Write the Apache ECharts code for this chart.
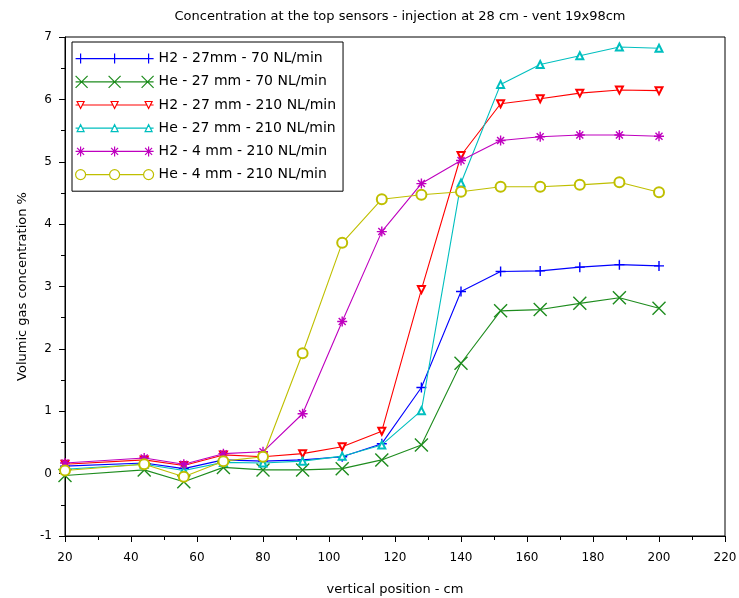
<!DOCTYPE html>
<html><head><meta charset="utf-8">
<script src="https://cdn.jsdelivr.net/npm/echarts@6/dist/echarts.min.js"></script>
<style>html,body{margin:0;padding:0;background:#fff}#c{width:739px;height:598px}</style>
</head><body><div id="c"></div>
<script>
const positions = [20, 44, 56, 68, 80, 92, 104, 116, 128, 140, 152, 164, 176, 188, 200];
const seriesNames = ['H2 - 27mm - 70 NL/min','He - 27 mm - 70 NL/min','H2 - 27 mm - 210 NL/min','He - 27 mm - 210 NL/min','H2 - 4 mm - 210 NL/min','He - 4 mm - 210 NL/min'];
const h2_27_70  = [0.12, 0.17, 0.08, 0.22, 0.20, 0.22, 0.27, 0.48, 1.38, 2.92, 3.24, 3.25, 3.31, 3.35, 3.33];
const he_27_70  = [-0.03, 0.06, -0.13, 0.10, 0.06, 0.06, 0.08, 0.22, 0.46, 1.77, 2.61, 2.63, 2.73, 2.82, 2.65];
const h2_27_210 = [0.15, 0.22, 0.13, 0.30, 0.27, 0.32, 0.43, 0.68, 2.95, 5.10, 5.93, 6.01, 6.10, 6.15, 6.14];
const he_27_210 = [0.07, 0.15, 0.05, 0.18, 0.17, 0.20, 0.28, 0.46, 1.01, 4.66, 6.24, 6.56, 6.70, 6.84, 6.82];
const h2_4_210  = [0.17, 0.25, 0.15, 0.32, 0.35, 0.96, 2.44, 3.88, 4.65, 5.02, 5.34, 5.40, 5.43, 5.43, 5.41];
const he_4_210  = [0.05, 0.15, -0.05, 0.20, 0.27, 1.93, 3.70, 4.40, 4.47, 4.52, 4.60, 4.60, 4.63, 4.67, 4.51];
const xTicks = [20, 40, 60, 80, 100, 120, 140, 160, 180, 200, 220];
const yTicks = [-1, 0, 1, 2, 3, 4, 5, 6, 7];

const allValues = [h2_27_70, he_27_70, h2_27_210, he_27_210, h2_4_210, he_4_210];
const colors = ['#0000ff', '#1e8c1e', '#ff0000', '#00bfbf', '#bf00bf', '#bfbf00'];
const symbols = [
  'path://M5,0L5,10M0,5L10,5',
  'path://M0,0L10,10M0,10L10,0',
  'emptyTriangle',
  'emptyTriangle',
  'path://M5,0L5,10M0,5L10,5M1.5,1.5L8.5,8.5M1.5,8.5L8.5,1.5',
  'emptyCircle'
];
const sizes = [10, 13, 7, 7, 10, 10];
const rotates = [0, 0, 180, 0, 0, 0];
// legend icons: a line with three markers (78 x 14 box)
const BB = 'M0,0M78,14';
const legendIcons = [
  BB + 'M0,7L78,7M5,2L5,12M39,2L39,12M73,2L73,12',
  BB + 'M0,7L78,7M0,1L12,13M12,1L0,13M33,1L45,13M45,1L33,13M66,1L78,13M78,1L66,13',
  BB + 'M0,7L3,7M7,7L37,7M41,7L71,7M75,7L78,7M1.5,3.5L8.5,3.5L5,10.5ZM35.5,3.5L42.5,3.5L39,10.5ZM69.5,3.5L76.5,3.5L73,10.5Z',
  BB + 'M0,7L3,7M7,7L37,7M41,7L71,7M75,7L78,7M1.5,10.5L8.5,10.5L5,3.5ZM35.5,10.5L42.5,10.5L39,3.5ZM69.5,10.5L76.5,10.5L73,3.5Z',
  BB + 'M0,7L78,7M5,2L5,12M1.5,3.5L8.5,10.5M1.5,10.5L8.5,3.5M39,2L39,12M35.5,3.5L42.5,10.5M35.5,10.5L42.5,3.5M73,2L73,12M69.5,3.5L76.5,10.5M69.5,10.5L76.5,3.5',
  BB + 'M10,7L34,7M44,7L68,7M10,7A5,5 0 1,1 0,7A5,5 0 1,1 10,7ZM44,7A5,5 0 1,1 34,7A5,5 0 1,1 44,7ZM78,7A5,5 0 1,1 68,7A5,5 0 1,1 78,7Z'
];
const FONT = 'DejaVu Sans';

const chart = echarts.init(document.getElementById('c'), null, {renderer: 'canvas'});
const series = allValues.map((vals, i) => ({
  name: seriesNames[i],
  type: 'line',
  data: positions.map((p, k) => [p, vals[k]]),
  symbol: symbols[i],
  symbolSize: sizes[i],
  symbolRotate: rotates[i],
  showAllSymbol: true,
  color: colors[i],
  lineStyle: {color: colors[i], width: 1.1},
  itemStyle: {color: colors[i], borderColor: colors[i], borderWidth: i === 0 || i === 1 || i === 4 ? 1.4 : 1.1},
  emphasis: {disabled: true},
  animation: false,
  z: 2 + i
}));

chart.setOption({
  animation: false,
  backgroundColor: '#fff',
  title: {
    text: 'Concentration at the top sensors - injection at 28 cm - vent 19x98cm',
    left: 395, top: 5, textAlign: 'center',
    textStyle: {fontFamily: FONT, fontSize: 13, fontWeight: 'normal', color: '#000'}
  },
  grid: {left: 65, right: 14, top: 37, bottom: 62, show: true, borderColor: '#000', borderWidth: 1,
    backgroundColor: 'transparent', containLabel: false, outerBoundsMode: 'none'},
  legend: {
    orient: 'vertical', left: 72, top: 42,
    data: seriesNames.map((n, i) => ({
      name: n, icon: 'path://' + legendIcons[i],
      itemStyle: {color: 'rgba(255,255,255,0)', borderColor: colors[i], borderWidth: 1.2}
    })),
    backgroundColor: '#fff', borderColor: '#000', borderWidth: 1,
    padding: [9, 7, 9, 3], itemGap: 8, itemWidth: 78, itemHeight: 14,
    textStyle: {fontFamily: FONT, fontSize: 14, color: '#000'},
    selectedMode: false
  },
  xAxis: {
    type: 'value', min: 20, max: 220, interval: 20,
    name: 'vertical position - cm', nameLocation: 'middle', nameGap: 47,
    nameTextStyle: {fontFamily: FONT, fontSize: 13, color: '#000'},
    axisLine: {show: true, onZero: false, lineStyle: {color: '#000', width: 1}},
    axisTick: {show: true, inside: false, length: 6, lineStyle: {color: '#000'}},
    minorTick: {show: true, splitNumber: 2, length: 4, lineStyle: {color: '#000'}},
    splitLine: {show: false},
    axisLabel: {fontFamily: FONT, fontSize: 12, color: '#000', margin: 16,
      formatter: v => xTicks.includes(v) ? String(v) : ''}
  },
  yAxis: {
    type: 'value', min: -1, max: 7, interval: 1,
    name: 'Volumic gas concentration %', nameLocation: 'middle', nameGap: 36, nameRotate: 90,
    nameTextStyle: {fontFamily: FONT, fontSize: 13, color: '#000'},
    axisLine: {show: true, onZero: false, lineStyle: {color: '#000', width: 1}},
    axisTick: {show: true, inside: false, length: 6, lineStyle: {color: '#000'}},
    minorTick: {show: true, splitNumber: 2, length: 4, lineStyle: {color: '#000'}},
    splitLine: {show: false},
    axisLabel: {fontFamily: FONT, fontSize: 12, color: '#000', margin: 13,
      formatter: v => yTicks.includes(v) ? String(v) : ''}
  },
  series: series
});
</script>
</body></html>
